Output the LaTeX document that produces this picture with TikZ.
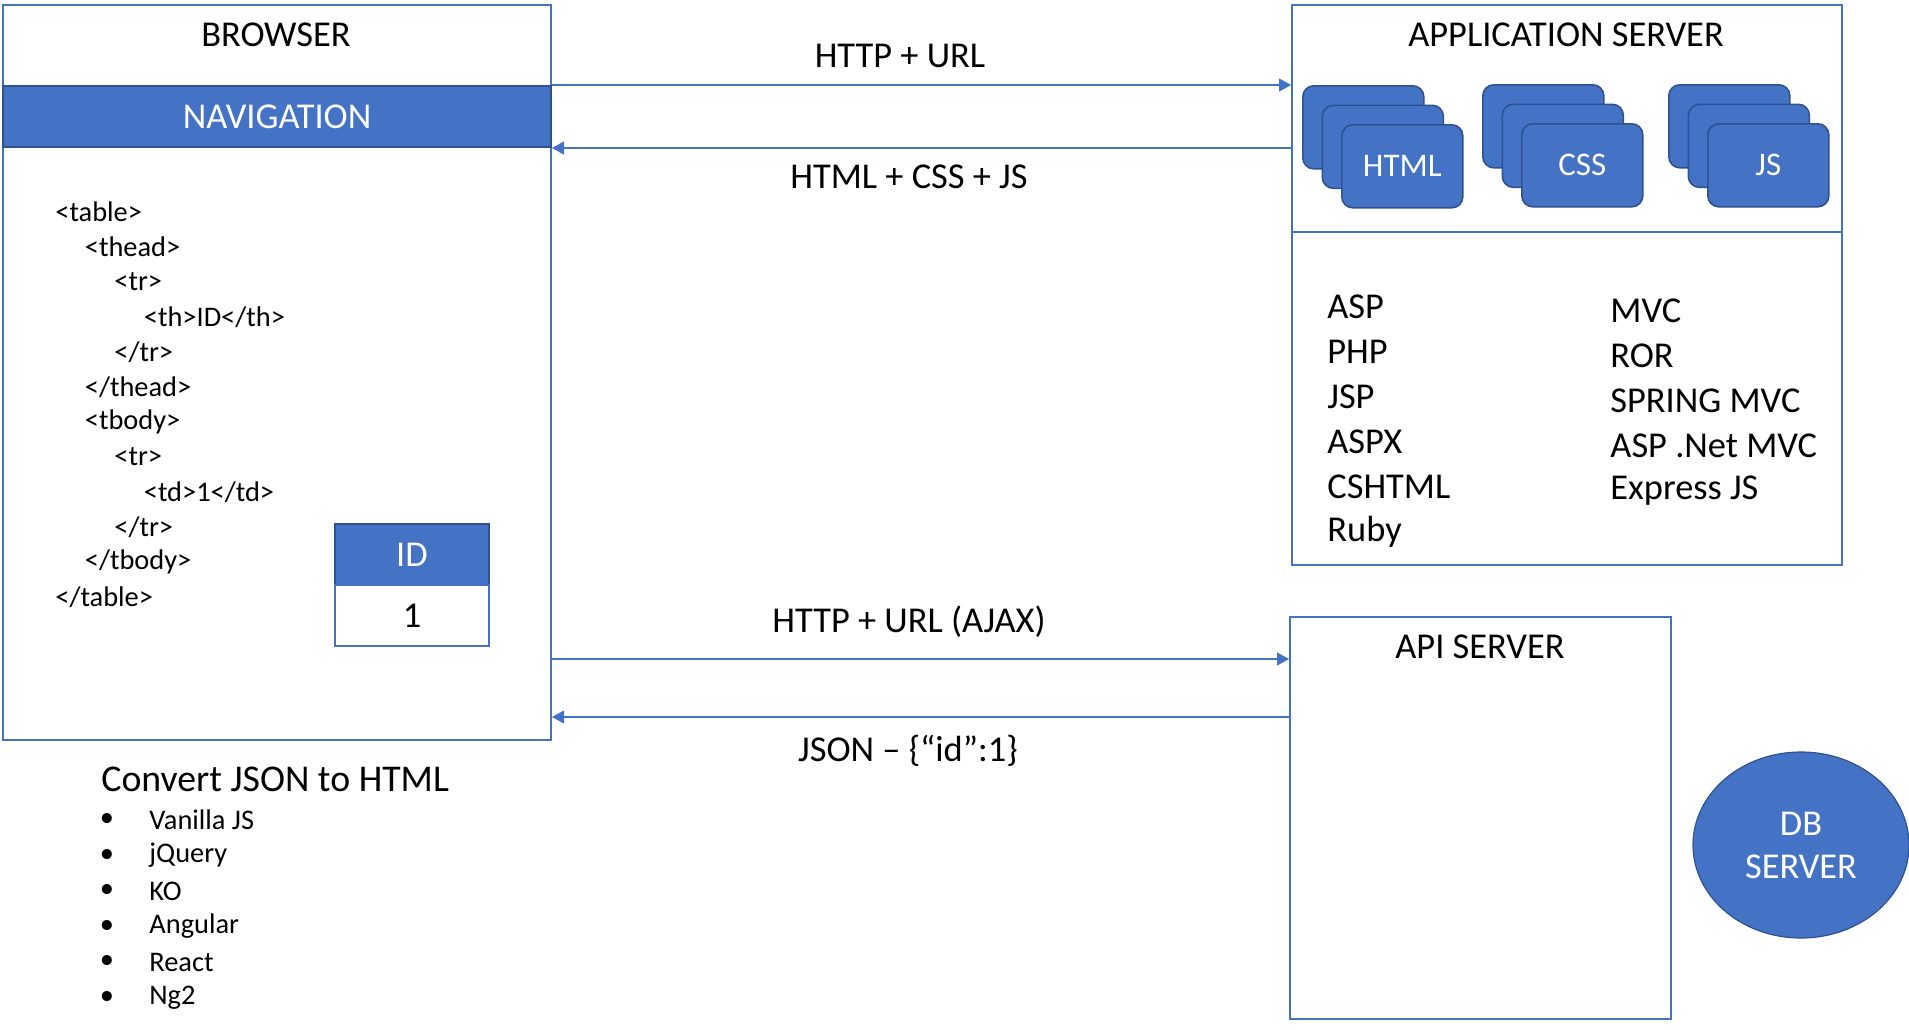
\documentclass[tikz,border=0pt]{standalone}
\usepackage{fontspec}
\setmainfont{Carlito}
\usepackage{tikz}
\usetikzlibrary{arrows.meta,shapes.geometric}

\definecolor{boxblue}{HTML}{4472C4}
\definecolor{darkblue}{HTML}{2F528F}

\tikzset{
  big/.style={font=\fontsize{18.2}{21.5}\selectfont, inner sep=0pt},
  small/.style={font=\fontsize{14.2}{17}\selectfont, inner sep=0pt},
  panel/.style={draw=boxblue, line width=1pt, fill=white, anchor=north west, inner sep=0pt},
  band/.style={draw=darkblue, fill=boxblue, line width=1pt, anchor=north west, inner sep=0pt,
    text=white, font=\fontsize{18.2}{21.5}\selectfont},
  card/.style={draw=darkblue, fill=boxblue, line width=0.8pt, rounded corners=5.5pt,
    minimum width=60.5pt, minimum height=41.5pt, anchor=north west, inner sep=0pt,
    text=white, font=\fontsize{16.5}{20}\selectfont},
  flow/.style={draw=boxblue, line width=0.6pt, -{Triangle[length=6pt, width=6.5pt]}},
}

\begin{document}
\begin{tikzpicture}[x=0.5pt, y=-0.5pt]
  \useasboundingbox (0,0) rectangle (1909,1029);

  \begin{scope} % Browser
    \node [panel, minimum width=274pt, minimum height=367.5pt] (browser) at (2,4) {};
    \node [big] (browsertitle) at (276,35) {BROWSER};
    \node [band, minimum width=274pt, minimum height=30.5pt] (nav) at (2,85) {NAVIGATION};
    \foreach \lvl/\snippet [count=\i from 0] in {0/{<table>}, 1/{<thead>}, 2/{<tr>},
        3/{<th>ID</th>}, 2/{</tr>}, 1/{</thead>}, 1/{<tbody>}, 2/{<tr>},
        3/{<td>1</td>}, 2/{</tr>}, 1/{</tbody>}, 0/{</table>}}
      \node [small, anchor=west] (code\i) at (55+29.5*\lvl, 212+35*\i) {\snippet};
    \node [band, minimum width=77pt, minimum height=30.5pt] (idhead) at (334,523) {ID};
    \node [panel, big, minimum width=77pt, minimum height=30.5pt] (idcell) at (334,584) {1};
  \end{scope}

  \begin{scope} % JSON to HTML libraries
    \node [big, font=\fontsize{18.9}{22}\selectfont, anchor=west] (convert) at (101,779)
      {Convert JSON to HTML};
    \foreach \lib [count=\i from 0] in {Vanilla JS, jQuery, KO, Angular, React, Ng2} {
      \node [small] (dot\i) at (107, 820+35.5*\i) {•};
      \node [small, anchor=west] (lib\i) at (149, 820+35.5*\i) {\lib};
    }
  \end{scope}

  \begin{scope} % Application Server
    \node [panel, minimum width=275pt, minimum height=280pt] (app) at (1291,4) {};
    \node [big] (apptitle) at (1566,35) {APPLICATION SERVER};
    \foreach \nm/\cx/\cy in {HTML/1302/85, CSS/1482/84, JS/1668/84} {
      \node [card] (\nm0) at (\cx, \cy) {};
      \node [card] (\nm1) at (\cx+19.5, \cy+19.5) {};
      \node [card] (\nm2) at (\cx+39, \cy+39) {\nm};
    }
    \coordinate (split) at (0,232);
    \draw [boxblue, line width=0.6pt] (app.west |- split) -- (app.east |- split);
    \foreach \lang [count=\i from 0] in {ASP, PHP, JSP, ASPX, CSHTML, Ruby}
      \node [big, anchor=west] (lang\i) at (1327, 307+45*\i) {\lang};
    \foreach \fw [count=\i from 0] in {MVC, ROR, SPRING MVC, ASP .Net MVC, Express JS}
      \node [big, anchor=west] (fw\i) at (1610, 311+45*\i) {\fw};
  \end{scope}

  \begin{scope} % API Server and DB Server
    \node [panel, minimum width=190.5pt, minimum height=201pt] (api) at (1289,616) {};
    \node [big] (apititle) at (1480,647) {API SERVER};
    \node [ellipse, draw=darkblue, fill=boxblue, line width=0.6pt, minimum width=108pt,
      minimum height=93pt, inner sep=0pt, text=white, align=center,
      font=\fontsize{18.2}{21.5}\selectfont] (db) at (1801,845) {DB\\SERVER};
  \end{scope}

  % requests and responses
  \coordinate (ajax) at (0,659);
  \coordinate (json) at (0,717);
  \draw [flow] (nav.north east) -- (app.west |- nav.north);
  \draw [flow] (app.west |- nav.south) -- (nav.south east);
  \draw [flow] (browser.east |- ajax) -- (api.west |- ajax);
  \draw [flow] (api.west |- json) -- (browser.east |- json);
  \node [big] (req) at (900,56) {HTTP + URL};
  \node [big] (page) at (909,177) {HTML + CSS + JS};
  \node [big] (ajaxreq) at (909,622) {HTTP + URL (AJAX)};
  \node [big] (jsonres) at (908,751) {JSON – \{“id”:1\}};
\end{tikzpicture}
\end{document}
